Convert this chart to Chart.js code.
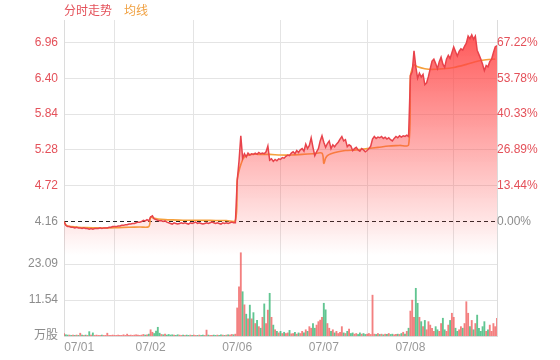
<!DOCTYPE html>
<html>
<head>
<meta charset="utf-8">
<title>分时走势</title>
<script src="https://cdn.jsdelivr.net/npm/chart.js@4/dist/chart.umd.min.js"></script>
<style>
  body { margin: 0; background: #fff; }
  #box { width: 560px; height: 360px; position: relative; }
  #legend { position: absolute; left: 64px; top: 3px; font: 12px 'Liberation Sans', 'Noto Sans CJK SC', sans-serif; line-height: 16px; }
  #legend span { margin-right: 12px; }
</style>
</head>
<body>
<div id="box">
  <div id="legend"></div>
  <canvas id="myChart"></canvas>
</div>
<script>
'use strict';
// five trading days, one price every 5 minutes (240 min a day)
const days = ['07/01', '07/02', '07/06', '07/07', '07/08'];
const basePrice = 4.16;

const price = [
  4.16, 4.10, 4.08, 4.08, 4.07, 4.07, 4.06, 4.07, 4.06, 4.06, 4.05, 4.06, 4.05, 4.05, 4.04, 4.05,
  4.04, 4.05, 4.05, 4.05, 4.06, 4.05, 4.06, 4.06, 4.06, 4.07, 4.07, 4.08, 4.08, 4.08, 4.09, 4.09,
  4.10, 4.10, 4.11, 4.11, 4.12, 4.12, 4.13, 4.13, 4.14, 4.15, 4.15, 4.16, 4.18, 4.17, 4.19, 4.17,
  4.23, 4.25, 4.20, 4.19, 4.18, 4.17, 4.17, 4.16, 4.17, 4.15, 4.14, 4.13, 4.12, 4.14, 4.13, 4.12,
  4.13, 4.14, 4.13, 4.14, 4.13, 4.12, 4.14, 4.13, 4.14, 4.15, 4.13, 4.14, 4.13, 4.12, 4.13, 4.14,
  4.13, 4.14, 4.15, 4.14, 4.13, 4.14, 4.13, 4.12, 4.14, 4.13, 4.14, 4.13, 4.14, 4.15, 4.14, 4.14,
  4.80, 5.10, 5.50, 5.15, 5.22, 5.17, 5.23, 5.20, 5.22, 5.21, 5.23, 5.21, 5.24, 5.22, 5.23, 5.22,
  5.25, 5.34, 5.12, 5.14, 5.10, 5.13, 5.11, 5.14, 5.13, 5.16, 5.15, 5.18, 5.20, 5.19, 5.23, 5.25,
  5.22, 5.27, 5.24, 5.28, 5.30, 5.26, 5.37, 5.30, 5.35, 5.47, 5.32, 5.19, 5.25, 5.30, 5.42, 5.50,
  5.40, 5.32, 5.38, 5.42, 5.30, 5.36, 5.33, 5.37, 5.40, 5.45, 5.49, 5.42, 5.44, 5.33, 5.36, 5.34,
  5.27, 5.30, 5.32, 5.28, 5.26, 5.30, 5.28, 5.25, 5.27, 5.30, 5.34, 5.45, 5.49, 5.46, 5.48, 5.47,
  5.49, 5.46, 5.48, 5.45, 5.47, 5.44, 5.42, 5.46, 5.49, 5.47, 5.50, 5.48, 5.50, 5.49, 5.51, 5.49,
  6.44, 6.50, 6.83, 6.58, 6.40, 6.48, 6.42, 6.46, 6.30, 6.33, 6.43, 6.55, 6.67, 6.70, 6.63, 6.55,
  6.66, 6.73, 6.62, 6.57, 6.70, 6.76, 6.71, 6.80, 6.89, 6.82, 6.75, 6.82, 6.86, 6.84, 6.90, 6.95,
  7.06, 7.02, 7.08, 7.01, 7.06, 6.84, 6.77, 6.70, 6.62, 6.52, 6.60, 6.58, 6.66, 6.70, 6.80, 6.89,
  6.91
];

// average price, sampled at these minutes of each day
const avgMinutes = [0, 5, 10, 20, 40, 60, 90, 120, 150, 180, 210, 235];
const avgPrice = [
  4.16, 4.11, 4.09, 4.08, 4.07, 4.065, 4.06, 4.06, 4.065, 4.07, 4.075, 4.08,
  4.23, 4.22, 4.21, 4.20, 4.19, 4.185, 4.18, 4.18, 4.178, 4.176, 4.175, 4.175,
  4.80, 4.95, 5.05, 5.17, 5.21, 5.21, 5.21, 5.20, 5.20, 5.21, 5.22, 5.23,
  5.07, 5.15, 5.19, 5.22, 5.25, 5.27, 5.28, 5.30, 5.32, 5.34, 5.35, 5.36,
  6.44, 6.55, 6.61, 6.58, 6.55, 6.54, 6.55, 6.57, 6.61, 6.66, 6.69, 6.70
];

// volume in 万股, same 5 minute steps as price
const volume = [
  0.8, 0.4, 0.3, 0.3, 0.2, 0.3, 0.2, 0.3, 0.2, 0.9, 0.3, 0.2, 0.3, 0.2, 1.4, 0.3,
  1.0, 0.2, 0.3, 0.2, 0.2, 0.3, 0.2, 0.2, 0.9, 0.2, 0.2, 0.3, 0.2, 0.2, 0.3, 0.2,
  0.2, 0.4, 0.2, 0.6, 0.2, 0.3, 0.2, 0.3, 0.4, 0.3, 0.2, 0.3, 0.5, 0.3, 0.4, 0.6,
  2.0, 1.2, 0.8, 1.6, 2.8, 0.9, 0.5, 0.4, 0.6, 0.3, 0.5, 0.3, 0.4, 0.3, 0.2, 0.4,
  0.3, 0.2, 0.3, 0.2, 0.3, 0.2, 0.3, 0.2, 0.3, 0.2, 0.2, 0.3, 0.2, 0.3, 0.2, 1.9,
  0.3, 0.2, 0.2, 0.3, 0.2, 0.3, 0.2, 0.4, 0.3, 0.2, 0.3, 0.4, 0.3, 0.5, 0.4, 0.6,
  9.0, 15.8, 26.7, 14.2, 10.0, 7.0, 5.5, 9.9, 5.5, 7.5, 4.0, 5.0, 3.0, 2.5, 6.0, 10.3,
  4.0, 8.3, 13.7, 6.0, 3.5, 2.0, 1.5, 1.0, 1.5, 0.8, 1.2, 0.8, 1.0, 1.8, 0.7, 0.8,
  1.2, 0.6, 1.0, 0.8, 1.5, 1.0, 2.0, 1.5, 3.0, 2.5, 4.0, 2.5, 3.5, 4.6, 5.1, 6.0,
  10.5, 8.4, 4.0, 2.5, 1.5, 2.0, 1.0, 1.5, 0.8, 1.2, 3.0, 1.0, 0.8, 1.5, 2.2, 0.8,
  1.0, 0.6, 0.8, 0.5, 1.0, 0.6, 0.8, 0.5, 0.6, 0.8, 0.5, 13.1, 0.6, 0.5, 0.8, 0.5,
  0.6, 0.4, 0.6, 0.5, 0.8, 0.5, 0.6, 0.4, 0.5, 0.6, 0.5, 0.8, 1.2, 0.6, 1.5, 2.5,
  8.0, 11.5, 6.0, 15.3, 10.5, 6.0, 4.6, 3.0, 5.0, 2.0, 4.6, 3.5, 2.5, 1.5, 3.0, 2.0,
  1.5, 4.0, 5.7, 2.0, 1.5, 3.5, 5.0, 7.3, 6.0, 2.5, 1.5, 2.0, 3.0, 2.5, 4.0, 11.0,
  7.3, 3.0, 5.0, 2.0, 4.0, 6.7, 2.5, 1.5, 3.0, 4.6, 1.5, 2.0, 3.5, 1.5, 4.0, 3.0,
  5.7
];

// tick labels
const priceTicks = ['4.16', '4.72', '5.28', '5.84', '6.40', '6.96'];
const pctTicks = ['0.00%', '13.44%', '26.89%', '40.33%', '53.78%', '67.22%'];
const volTicks = ['万股', '11.54', '23.09'];

const STEP = 5;
const DAY = 240;
const PRICE_MIN = 2.369;
const PRICE_MAX = 7.312;
const VOL_MAX = 101.35;

const red = '#e4515a';
const gray = '#8c8c8c';
const gridColor = '#e4e4e4';

function volToPrice(v) {
  return PRICE_MIN + v / VOL_MAX * (PRICE_MAX - PRICE_MIN);
}

const leftValues = priceTicks.map(Number).concat(volTicks.map(t => parseFloat(t) || 0).map(volToPrice));
const leftLabels = priceTicks.concat(volTicks);

const priceData = price.map((v, i) => ({ x: i * STEP, y: v }));
const avgData = avgPrice.map((v, i) => ({ x: Math.floor(i / avgMinutes.length) * DAY + avgMinutes[i % avgMinutes.length], y: v }));
const volData = volume.map((v, i) => ({ x: i * STEP, y: v }));
const volColors = price.map((p, i) => (i === 0 || p >= price[i - 1]) ? 'rgba(240,96,96,0.8)' : 'rgba(58,182,118,0.8)');

function fillGradient(context) {
  const chart = context.chart;
  const area = chart.chartArea;
  if (!area) {
    return 'rgba(255,70,70,0.3)';
  }
  const fadeY = chart.scales.y.getPixelForValue(3.63);
  const g = chart.ctx.createLinearGradient(0, area.top, 0, fadeY);
  g.addColorStop(0, 'rgba(255,70,70,0.95)');
  g.addColorStop(1, 'rgba(255,70,70,0)');
  return g;
}

Chart.defaults.font.family = "'Liberation Sans', 'Noto Sans CJK SC', sans-serif";
Chart.defaults.font.size = 12;
Chart.defaults.color = gray;

const ctx = document.getElementById('myChart').getContext('2d');
const chart = new Chart(ctx, {
  type: 'line',
  data: {
    datasets: [
      {
        label: '分时走势',
        data: priceData,
        yAxisID: 'y',
        borderColor: '#e8434b',
        borderWidth: 1.5,
        pointRadius: 0,
        tension: 0,
        fill: 'start',
        backgroundColor: fillGradient
      },
      {
        label: '均线',
        data: avgData,
        yAxisID: 'y',
        borderColor: '#f5a03c',
        borderWidth: 1.6,
        pointRadius: 0,
        tension: 0.3,
        fill: false
      },
      {
        label: 'base',
        data: [{ x: 0, y: basePrice }, { x: DAY * days.length, y: basePrice }],
        yAxisID: 'y',
        borderColor: '#222',
        borderWidth: 1,
        borderDash: [4, 3],
        pointRadius: 0,
        fill: false
      },
      {
        type: 'bar',
        label: '成交量',
        data: volData,
        yAxisID: 'yVol',
        backgroundColor: volColors,
        barThickness: 1.2
      }
    ]
  },
  options: {
    responsive: true,
    maintainAspectRatio: false,
    animation: false,
    events: [],
    layout: { padding: { left: 0, top: 20, right: 0, bottom: 0 } },
    plugins: {
      tooltip: { enabled: false },
      legend: { display: false }
    },
    scales: {
      x: {
        type: 'linear',
        min: 0,
        max: DAY * days.length,
        offset: false,
        afterBuildTicks: s => { s.ticks = days.map((d, i) => ({ value: i === 0 ? 42 : i * DAY })); },
        afterFit: s => { s.height = 24; },
        ticks: { autoSkip: false, maxRotation: 0, padding: 4, color: '#999', callback: (v, i) => days[i] },
        grid: { drawTicks: false, color: c => c.index === 0 ? 'rgba(0,0,0,0)' : gridColor },
        border: { color: '#dcdcdc' }
      },
      y: {
        position: 'left',
        min: PRICE_MIN,
        max: PRICE_MAX,
        afterBuildTicks: s => { s.ticks = leftValues.map(v => ({ value: v })); },
        afterFit: s => { s.width = 64; },
        ticks: {
          autoSkip: false,
          padding: 6,
          callback: (v, i) => leftLabels[i],
          color: c => (c.index >= 1 && c.index < priceTicks.length) ? red : gray
        },
        grid: { drawTicks: false, color: c => c.index === 0 ? 'rgba(0,0,0,0)' : gridColor },
        border: { color: '#dcdcdc' }
      },
      yPct: {
        position: 'right',
        min: PRICE_MIN,
        max: PRICE_MAX,
        afterBuildTicks: s => { s.ticks = priceTicks.map(t => ({ value: Number(t) })); },
        afterFit: s => { s.width = 63; },
        ticks: {
          autoSkip: false,
          padding: 0,
          callback: (v, i) => pctTicks[i],
          color: c => c.index === 0 ? gray : red
        },
        grid: { drawOnChartArea: false, drawTicks: false },
        border: { color: '#dcdcdc' }
      },
      yVol: {
        display: false,
        min: 0,
        max: VOL_MAX
      }
    }
  }
});

// legend above the plot, coloured like the two lines
const legend = document.getElementById('legend');
[[chart.data.datasets[0].label, red], [chart.data.datasets[1].label, '#f0a040']].forEach(function (item) {
  const span = document.createElement('span');
  span.textContent = item[0];
  span.style.color = item[1];
  legend.appendChild(span);
});
</script>
</body>
</html>
